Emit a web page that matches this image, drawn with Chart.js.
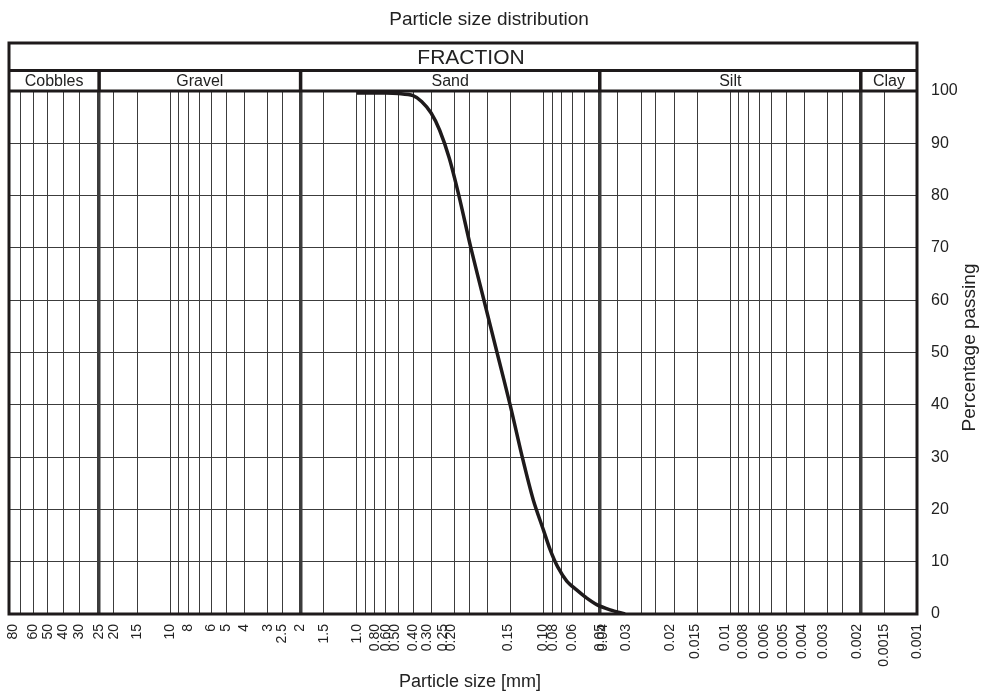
<!DOCTYPE html>
<html>
<head>
<meta charset="utf-8">
<title>Particle size distribution</title>
<script src="https://cdn.jsdelivr.net/npm/chart.js@4.4.1/dist/chart.umd.min.js"></script>
<style>
    html, body { margin: 0; padding: 0; background: #fff; }
    #caixa { position: relative; width: 989px; height: 695px; }
</style>
</head>
<body>
<div id="caixa"><canvas id="grafGranulometria"></canvas></div>
<script>
// ── Dados ──
// Curva granulométrica: diâmetro (mm) x percentagem que passa
const tamanhos = [1.0, 0.7, 0.6, 0.5, 0.45, 0.4, 0.36, 0.32, 0.284, 0.245, 0.2085, 0.1775, 0.151, 0.130, 0.1135, 0.1, 0.092, 0.084, 0.0751, 0.0665, 0.0595, 0.0519, 0.044, 0.0366];
const passante = [99.6, 99.6, 99.5, 99.1, 98.0, 95.8, 92.5, 87.2, 80, 70, 60, 50, 40, 30, 21.8, 16.0, 12.2, 9.0, 6.3, 4.6, 3.2, 1.8, 0.8, 0];

// Linhas verticais da grade (mm); as da zona de calhaus não seguem a escala log
const linhasGrade = [62.9, 53.8, 45.2, 37.3, 30.6, 24, 20, 15, 10, 9, 8, 7, 6, 5, 4, 3, 2.5, 2, 1.5,
    1.0, 0.9, 0.8, 0.7, 0.6, 0.5, 0.4, 0.3, 0.25, 0.2, 0.15, 0.1, 0.09, 0.08, 0.07, 0.06, 0.05,
    0.04, 0.03, 0.025, 0.02, 0.015, 0.01, 0.009, 0.008, 0.007, 0.006, 0.005, 0.004, 0.003, 0.0025, 0.002, 0.0015];

// Limites entre frações (linhas grossas) e nomes
const limitesFracao = [24, 2, 0.05, 0.002];
const nomesFracao = ['Cobbles', 'Gravel', 'Sand', 'Silt', 'Clay'];

// Rótulos do eixo x: texto e posição (em mm) onde aparecem na figura
const rotulosX = ['80', '60', '50', '40', '30', '25', '20', '15', '10', '8', '6', '5', '4', '3', '2.5', '2', '1.5',
    '1.0', '0.80', '0.60', '0.50', '0.40', '0.30', '0.25', '0.20', '0.15', '0.10', '0.08', '0.06', '0.05', '0.04', '0.03',
    '0.02', '0.015', '0.01', '0.008', '0.006', '0.005', '0.004', '0.003', '0.002', '0.0015', '0.001'];
const posRotulosX = [69.3, 53.8, 45.2, 37.3, 30.6, 24, 20, 15, 10, 8, 6, 5, 4, 3, 2.5, 2, 1.5,
    1.0, 0.8, 0.70, 0.62, 0.5, 0.42, 0.347, 0.314, 0.155, 0.1, 0.089, 0.07, 0.05, 0.0477, 0.0359,
    0.021, 0.0155, 0.0106, 0.0085, 0.0066, 0.0052, 0.0041, 0.0032, 0.00208, 0.0015, 0.001];

// Eixos
const yMin = 0, yMax = 100, yPasso = 10;
const xMin = 0.001, xMax = 72.9;

(function () {
    'use strict';

    if (typeof Chart === 'undefined') return;

    const PRETO  = '#1e1a1b';
    const GRADE  = '#3c3c3c';
    const TEXTO  = '#222222';
    const FONTE  = "'Liberation Sans', Arial, Helvetica, sans-serif";

    Chart.defaults.font.family = FONTE;
    Chart.defaults.color = TEXTO;

    function quase(a, b) { return Math.abs(a - b) / b < 1e-6; }

    // ticks = linhas da grade + rótulos (cada um pode ter só linha ou só texto)
    function montarTicks(eixo) {
        const ticks = [];
        linhasGrade.forEach(v => ticks.push({ value: v, grade: true, texto: '' }));
        posRotulosX.forEach((v, i) => ticks.push({ value: v, grade: false, texto: rotulosX[i] }));
        ticks.sort((a, b) => b.value - a.value);
        eixo.ticks = ticks;
    }

    // ── Cabeçalho FRACTION, bordas e títulos ──
    const cabecalho = {
        id: 'cabecalho',
        beforeDatasetsDraw(chart) {
            const { ctx, chartArea: a, scales } = chart;
            const x = scales.x;
            const topo = 43, meio = 70.5;

            ctx.save();
            ctx.strokeStyle = PRETO;
            ctx.lineWidth = 3;
            ctx.strokeRect(a.left, topo, a.right - a.left, a.bottom - topo);

            ctx.beginPath();
            ctx.moveTo(a.left, meio);  ctx.lineTo(a.right, meio);
            ctx.moveTo(a.left, a.top); ctx.lineTo(a.right, a.top);
            ctx.stroke();

            const bordas = [a.left, ...limitesFracao.map(v => x.getPixelForValue(v)), a.right];
            ctx.lineWidth = 3.5;
            ctx.beginPath();
            limitesFracao.forEach((v, i) => {
                ctx.moveTo(bordas[i + 1], meio);
                ctx.lineTo(bordas[i + 1], a.top);
            });
            ctx.stroke();

            ctx.fillStyle = TEXTO;
            ctx.textAlign = 'center';
            ctx.textBaseline = 'middle';
            ctx.font = '21px ' + FONTE;
            ctx.fillText('FRACTION', (a.left + a.right) / 2 + 8, (topo + meio) / 2 + 1);

            ctx.font = '16px ' + FONTE;
            nomesFracao.forEach((nome, i) => {
                ctx.fillText(nome, (bordas[i] + bordas[i + 1]) / 2, (meio + a.top) / 2 + 1);
            });

            ctx.font = '19px ' + FONTE;
            ctx.fillText('Particle size distribution', 489, 20);
            ctx.font = '18px ' + FONTE;
            ctx.fillText('Particle size [mm]', 470, 682);

            ctx.font = '19px ' + FONTE;
            ctx.translate(970, (a.top + a.bottom) / 2 - 5);
            ctx.rotate(-Math.PI / 2);
            ctx.fillText('Percentage passing', 0, 0);
            ctx.restore();
        }
    };

    const el = document.getElementById('grafGranulometria');
    new Chart(el, {
        type: 'line',
        data: {
            datasets: [{
                data: tamanhos.map((t, i) => ({ x: t, y: passante[i] })),
                borderColor: PRETO,
                borderWidth: 3.5,
                pointRadius: 0,
                tension: 0.3,
                fill: false
            }]
        },
        options: {
            responsive: true,
            maintainAspectRatio: false,
            animation: false,
            layout: { padding: { top: 91, left: 9, right: 0, bottom: 0 } },
            plugins: {
                legend: { display: false },
                tooltip: { enabled: false }
            },
            scales: {
                x: {
                    type: 'logarithmic',
                    reverse: true,
                    min: xMin,
                    max: xMax,
                    bounds: 'data',
                    afterBuildTicks: montarTicks,
                    afterFit: (eixo) => { eixo.height = 81; },
                    border: { display: false },
                    grid: {
                        drawTicks: false,
                        color: (c) => (c.tick && c.tick.grade) ? GRADE : 'rgba(0,0,0,0)',
                        lineWidth: (c) => {
                            if (!c.tick || !c.tick.grade) return 0;
                            return limitesFracao.some(v => quase(v, c.tick.value)) ? 3.5 : 1;
                        }
                    },
                    ticks: {
                        autoSkip: false,
                        minRotation: 90,
                        maxRotation: 90,
                        padding: 10,
                        font: { size: 14 },
                        callback: function (v, i, ticks) { return ticks[i].texto; }
                    },
                    title: { display: false }
                },
                y: {
                    position: 'right',
                    min: yMin,
                    max: yMax,
                    afterFit: (eixo) => { eixo.width = 72; },
                    border: { display: false },
                    grid: { drawTicks: false, color: GRADE, lineWidth: 1 },
                    ticks: {
                        stepSize: yPasso,
                        padding: 14,
                        font: { size: 16 }
                    }
                }
            }
        },
        plugins: [cabecalho]
    });
})();
</script>
</body>
</html>
